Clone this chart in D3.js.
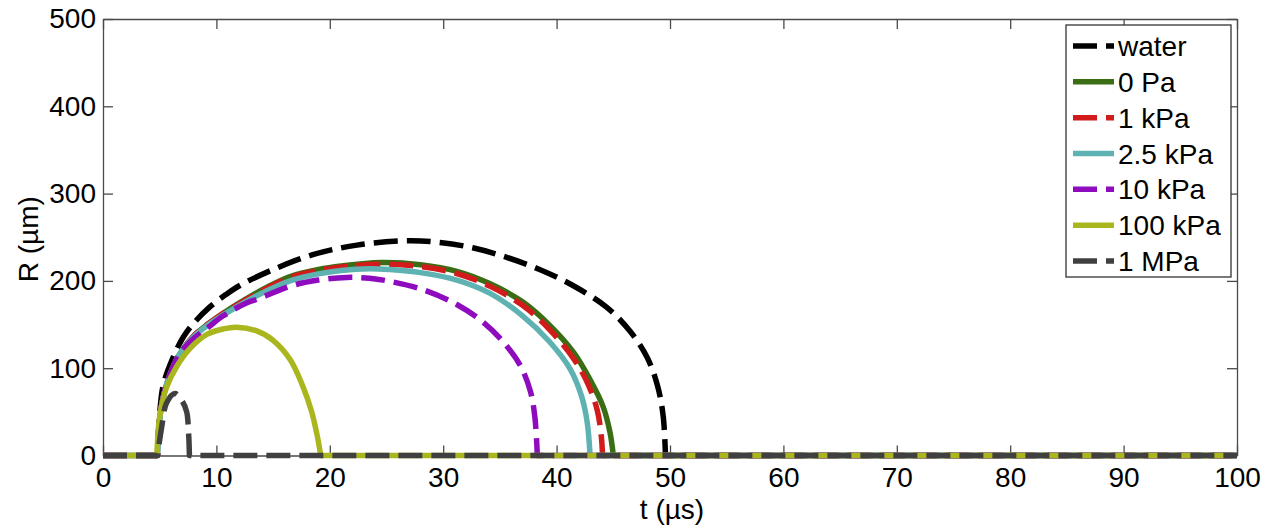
<!DOCTYPE html>
<html>
<head>
<meta charset="utf-8">
<script src="https://cdn.jsdelivr.net/npm/d3@7"></script>
<style>
  html, body { margin: 0; padding: 0; background: #fff; }
  svg { display: block; font-family: "Liberation Sans", Arial, Helvetica, sans-serif; }
</style>
</head>
<body>
<svg id="chart" width="1274" height="527"></svg>
<script>
// Bubble radius R (µm) versus time t (µs) for several shear moduli.
const seriesNames = ["water", "0 Pa", "1 kPa", "2.5 kPa", "10 kPa", "100 kPa", "1 MPa"];
const seriesColors = ["#000000", "#3a6e14", "#d21c1c", "#5fb2b2", "#8e0cbe", "#aab61e", "#404040"];
const seriesDashed = [true, false, true, false, true, false, true];

const waterPts = [[0,0],[4.8,0],[5.0,48],[5.3,80],[6.1,110],[7.1,136],[8.1,153],[9.4,170],[10.8,184],[12.1,195],[15,213],[18.5,230],[22.4,241],[27,246],[29.7,244],[32.6,238],[35.6,227],[38.5,213],[41.4,195],[44.4,170],[46.5,142],[48,112],[48.9,80],[49.4,45],[49.6,0],[100,0]];
const pa0Pts = [[0,0],[4.8,0],[5.0,42],[5.4,72],[6.0,96],[6.8,117],[8.0,137],[9.2,150],[10.6,163],[12.7,180],[14.5,193],[16.5,205],[19,213],[21,217],[24.5,221],[28,218.5],[31.2,211],[34.1,197],[37,176],[39.4,149],[41.5,118],[42.9,88],[44.1,56],[44.7,27],[45,0],[100,0]];
const kpa1Pts = [[0,0],[4.8,0],[5.0,42],[5.4,72],[6.0,96],[6.8,117],[8.0,137],[9.2,150],[10.6,163],[12.7,179],[14.5,192],[16.5,204],[19,212],[21,216],[24.5,219],[28,216.5],[31.2,208.5],[34.1,194],[37,172],[39.4,144],[41.5,111],[42.8,81],[43.6,51],[43.95,21],[44.05,0],[100,0]];
const kpa25Pts = [[0,0],[4.8,0],[5.0,42],[5.4,72],[6.0,96],[6.8,117],[8.0,136],[9.2,149],[10.6,161],[12.7,177],[14.5,189],[16.5,200],[19,208],[21,212],[23.5,214],[25.3,213],[28,209.5],[31.2,201],[34.1,186],[37,160],[39.4,130],[41.2,99],[42.2,68],[42.7,38],[42.95,0],[100,0]];
const kpa10Pts = [[0,0],[4.8,0],[5.0,42],[5.4,72],[6.0,96],[6.8,117],[8.0,134],[9.2,146],[10.6,160],[12.7,175],[13.6,179],[16.5,194],[19,201],[21.5,204],[23.5,203],[25.3,199.5],[28.2,190],[31.2,173],[33.5,153],[35.3,130],[36.8,103],[37.7,73],[38.1,42],[38.3,0],[100,0]];
const kpa100Pts = [[0,0],[4.75,0],[5.0,45],[5.6,78],[6.5,102],[7.7,123],[9.2,139],[10.6,145],[11.8,147],[13.5,143],[15,132],[16.5,110],[17.6,80],[18.4,50],[18.9,22],[19.2,0],[100,0]];
const mpa1Pts = [[0,0],[4.8,0],[5.18,33],[5.6,60],[6.35,71],[7.0,62],[7.38,50],[7.55,25],[7.62,0],[100,0]];

const seriesPts = [waterPts, pa0Pts, kpa1Pts, kpa25Pts, kpa10Pts, kpa100Pts, mpa1Pts];

const xTicks = [0, 10, 20, 30, 40, 50, 60, 70, 80, 90, 100];
const yTicks = [0, 100, 200, 300, 400, 500];

const svg = d3.select("#chart");
const plotLeft = 103, plotRight = 1237, plotTop = 19, plotBottom = 455.5;

const x = d3.scaleLinear().domain([0, 100]).range([plotLeft, plotRight]);
const y = d3.scaleLinear().domain([0, 500]).range([plotBottom, plotTop]);

const axisColor = "#4a4a4a";
const fontSize = 28;
const lineWidth = 5.5;
const dashPattern = "24,9";

svg.append("clipPath").attr("id", "plotClip")
  .append("rect").attr("x", plotLeft).attr("y", plotTop)
  .attr("width", plotRight - plotLeft).attr("height", plotBottom - plotTop + 4);

// axes with inward ticks on all four sides
const tickLen = 10;
const gAxes = svg.append("g");
gAxes.append("g").attr("transform", `translate(0,${plotBottom})`)
  .call(d3.axisBottom(x).tickValues(xTicks).tickSizeInner(-tickLen).tickSizeOuter(0).tickPadding(12));
gAxes.append("g").attr("transform", `translate(0,${plotTop})`)
  .call(d3.axisTop(x).tickValues(xTicks).tickSizeInner(-tickLen).tickSizeOuter(0).tickFormat(""));
gAxes.append("g").attr("transform", `translate(${plotLeft},0)`)
  .call(d3.axisLeft(y).tickValues(yTicks).tickSizeInner(-tickLen).tickSizeOuter(0).tickPadding(7));
gAxes.append("g").attr("transform", `translate(${plotRight},0)`)
  .call(d3.axisRight(y).tickValues(yTicks).tickSizeInner(-tickLen).tickSizeOuter(0).tickFormat(""));
gAxes.selectAll(".domain").attr("stroke", axisColor).attr("stroke-width", 1.3);
gAxes.selectAll(".tick line").attr("stroke", axisColor).attr("stroke-width", 1.3);
gAxes.selectAll(".tick text").attr("fill", "#000").attr("font-size", fontSize)
  .attr("font-family", "Liberation Sans, Arial, sans-serif");

// data lines: flat baseline before and after the bubble, smooth arc in between
const arc = d3.line().x(d => x(d[0])).y(d => y(d[1])).curve(d3.curveCatmullRom.alpha(0.5));
function seriesPath(pts) {
  const first = pts[0], last = pts[pts.length - 1];
  const mid = pts.slice(1, pts.length - 1);
  return `M${x(first[0])},${y(first[1])}L` + arc(mid).slice(1) + `L${x(last[0])},${y(last[1])}`;
}
const gLines = svg.append("g").attr("clip-path", "url(#plotClip)");
seriesPts.forEach((pts, i) => {
  gLines.append("path")
    .attr("d", seriesPath(pts))
    .attr("fill", "none")
    .attr("stroke", seriesColors[i])
    .attr("stroke-width", lineWidth)
    .attr("stroke-linejoin", "round")
    .attr("stroke-dasharray", seriesDashed[i] ? dashPattern : null);
});

// axis labels
svg.append("text").attr("x", (plotLeft + plotRight) / 2 + 2).attr("y", 519)
  .attr("text-anchor", "middle").attr("font-size", fontSize).text("t (µs)");
svg.append("text").attr("transform", `translate(38,${(plotTop + plotBottom) / 2 + 2}) rotate(-90)`)
  .attr("text-anchor", "middle").attr("font-size", fontSize).text("R (µm)");

// legend
const lgX = 1066, lgY = 25, lgW = 165, lgH = 252;
const gLeg = svg.append("g");
gLeg.append("rect").attr("x", lgX).attr("y", lgY).attr("width", lgW).attr("height", lgH)
  .attr("fill", "#fff").attr("stroke", "#333").attr("stroke-width", 1.3);
const rowY = d3.scalePoint().domain(seriesNames).range([46, 261]);
seriesNames.forEach((name, i) => {
  const yy = rowY(name);
  gLeg.append("line").attr("x1", 1073).attr("x2", 1114).attr("y1", yy).attr("y2", yy)
    .attr("stroke", seriesColors[i]).attr("stroke-width", lineWidth)
    .attr("stroke-dasharray", seriesDashed[i] ? dashPattern : null);
  gLeg.append("text").attr("x", 1118).attr("y", yy).attr("dy", "0.36em")
    .attr("font-size", fontSize).text(name);
});
</script>
</body>
</html>
